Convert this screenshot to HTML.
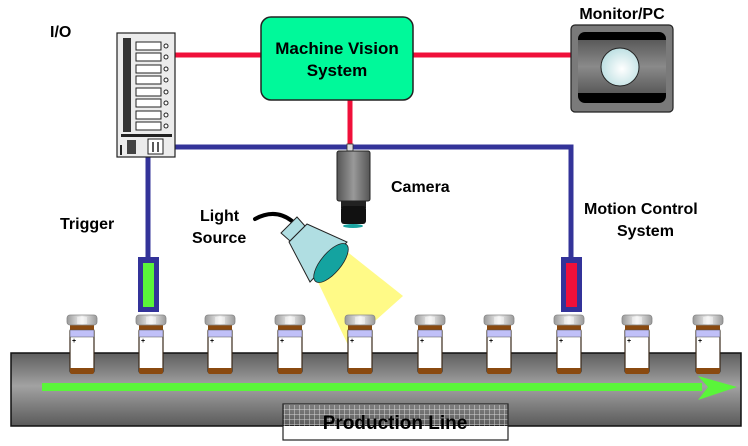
<!DOCTYPE html>
<html><head><meta charset="utf-8"><style>
html,body{margin:0;padding:0;background:#fff}
svg{display:block}
text{font-family:"Liberation Sans",Arial,sans-serif;font-weight:bold;fill:#000}
</style></head><body>
<svg width="748" height="446" viewBox="0 0 748 446" xmlns="http://www.w3.org/2000/svg">
<defs>
<linearGradient id="conv" x1="0" y1="0" x2="0" y2="1">
<stop offset="0" stop-color="#5e5e5e"/><stop offset="0.45" stop-color="#a2a2a2"/><stop offset="1" stop-color="#5a5a5a"/></linearGradient>
<linearGradient id="cap" x1="0" y1="0" x2="1" y2="0">
<stop offset="0" stop-color="#999"/><stop offset="0.5" stop-color="#f2f2f2"/><stop offset="1" stop-color="#999"/></linearGradient>
<linearGradient id="cam" x1="0" y1="0" x2="1" y2="0">
<stop offset="0" stop-color="#555"/><stop offset="0.5" stop-color="#999"/><stop offset="1" stop-color="#555"/></linearGradient>
<linearGradient id="mon" x1="0" y1="0" x2="0" y2="1">
<stop offset="0" stop-color="#5a5a5a"/><stop offset="0.5" stop-color="#8a8a8a"/><stop offset="1" stop-color="#5a5a5a"/></linearGradient>
<radialGradient id="lens" cx="0.55" cy="0.55" r="0.6">
<stop offset="0" stop-color="#fff"/><stop offset="1" stop-color="#b8dde0"/></radialGradient>
<pattern id="grid" width="5" height="5" patternUnits="userSpaceOnUse">
<rect width="5" height="5" fill="none"/><path d="M5 0V5M0 5H5" stroke="#fff" stroke-width="1" opacity="0.7"/></pattern>
<g id="bottle">
<rect x="-12" y="14" width="24" height="44" rx="2" fill="#fff" stroke="#3a2a1a" stroke-width="1.2"/>
<rect x="-12" y="8" width="24" height="8" fill="#8a4a10"/>
<rect x="-12" y="15" width="24" height="7" fill="#c0c0f8" stroke="#555" stroke-width="0.5"/>
<path d="M-12 53h24v4q0 2-2 2h-20q-2 0-2-2z" fill="#8a4a10"/>
<rect x="-15" y="0" width="30" height="10" rx="3" fill="url(#cap)" stroke="#888" stroke-width="0.8"/>
<path d="M-4 2v7M-2 2v7M0 2v7M2 2v7M4 2v7" stroke="#fff" stroke-width="0.8"/>
<text x="-10" y="28" font-size="7">+</text>
</g>
</defs>

<!-- conveyor -->
<rect x="11" y="353" width="730" height="73" fill="url(#conv)" stroke="#111" stroke-width="1.5"/>
<!-- arrow -->
<rect x="42" y="383" width="660" height="8" fill="#5af53a"/>
<path d="M698 376 L737 387 L698 400 L708 387 Z" fill="#5af53a"/>

<!-- light beam -->
<polygon points="316,278 345,250 403,296 348,345" fill="#fffa7a" opacity="0.9"/>

<!-- bottles -->
<use href="#bottle" x="82" y="315"/>
<use href="#bottle" x="151" y="315"/>
<use href="#bottle" x="220" y="315"/>
<use href="#bottle" x="290" y="315"/>
<use href="#bottle" x="360" y="315"/>
<use href="#bottle" x="430" y="315"/>
<use href="#bottle" x="499" y="315"/>
<use href="#bottle" x="569" y="315"/>
<use href="#bottle" x="637" y="315"/>
<use href="#bottle" x="708" y="315"/>

<!-- production line label -->
<rect x="283" y="426" width="225" height="14" fill="#fff"/>
<rect x="283" y="404" width="225" height="36" fill="url(#grid)" stroke="#222" stroke-width="1.2"/>
<text x="395" y="429" font-size="19" text-anchor="middle">Production Line</text>

<!-- wires -->
<line x1="172" y1="55" x2="572" y2="55" stroke="#f0103a" stroke-width="5"/>
<line x1="350" y1="100" x2="350" y2="150" stroke="#f0103a" stroke-width="5"/>
<polyline points="175,147 571,147 571,260" fill="none" stroke="#333399" stroke-width="5"/>
<line x1="148" y1="150" x2="148" y2="258" stroke="#333399" stroke-width="5"/>

<!-- sensors -->
<rect x="138" y="257" width="21" height="55" fill="#333399"/>
<rect x="143" y="263" width="11" height="44" fill="#5af53a"/>
<rect x="561" y="257" width="21" height="55" fill="#333399"/>
<rect x="566" y="263" width="11" height="44" fill="#f0103a"/>

<!-- machine vision -->
<rect x="261" y="17" width="152" height="83" rx="10" fill="#00f99a" stroke="#222" stroke-width="1.5"/>
<text x="337" y="54" font-size="17" text-anchor="middle">Machine Vision</text>
<text x="337" y="76" font-size="17" text-anchor="middle">System</text>

<!-- monitor -->
<text x="622" y="19" font-size="16" text-anchor="middle">Monitor/PC</text>
<rect x="571" y="25" width="102" height="87" rx="4" fill="#7a7a7a" stroke="#222" stroke-width="1.2"/>
<rect x="578" y="32" width="88" height="71" rx="7" fill="#000"/>
<rect x="578" y="40" width="88" height="53" fill="url(#mon)"/>
<circle cx="620" cy="67" r="19" fill="url(#lens)" stroke="#222" stroke-width="1"/>

<!-- I/O -->
<text x="50" y="37" font-size="16">I/O</text>
<rect x="117" y="33" width="58" height="124" fill="#ececec" stroke="#222" stroke-width="1.2"/>
<rect x="123" y="38" width="8" height="94" fill="#333"/>
<g fill="#fff" stroke="#222" stroke-width="1">
<rect x="136" y="42" width="25" height="8"/><rect x="136" y="53" width="25" height="8"/>
<rect x="136" y="65" width="25" height="8"/><rect x="136" y="76" width="25" height="8"/>
<rect x="136" y="88" width="25" height="8"/><rect x="136" y="99" width="25" height="8"/>
<rect x="136" y="111" width="25" height="8"/><rect x="136" y="122" width="25" height="8"/>
<circle cx="166" cy="46" r="2"/><circle cx="166" cy="57" r="2"/><circle cx="166" cy="69" r="2"/>
<circle cx="166" cy="80" r="2"/><circle cx="166" cy="92" r="2"/><circle cx="166" cy="103" r="2"/>
<circle cx="166" cy="115" r="2"/><circle cx="166" cy="126" r="2"/>
</g>
<rect x="121" y="134" width="51" height="3" fill="#222"/>
<rect x="127" y="140" width="9" height="14" fill="#444"/>
<rect x="148" y="139" width="15" height="15" fill="#fff" stroke="#222" stroke-width="1"/>
<path d="M153 142v10M158 142v10" stroke="#222" stroke-width="1.5"/>
<rect x="120" y="145" width="2" height="10" fill="#222"/>

<!-- camera -->
<rect x="347" y="144" width="6" height="7" fill="#ddd" stroke="#333" stroke-width="0.8"/>
<rect x="337" y="151" width="33" height="50" rx="2" fill="url(#cam)" stroke="#222" stroke-width="1"/>
<rect x="341" y="201" width="25" height="7" fill="#222"/>
<rect x="341" y="206" width="25" height="18" rx="3" fill="#111"/>
<ellipse cx="353" cy="226" rx="10" ry="2" fill="#1aa3a0"/>
<text x="391" y="192" font-size="16">Camera</text>

<!-- light source -->
<path d="M255 219 Q275 208 292 221" fill="none" stroke="#000" stroke-width="4" stroke-linecap="round"/>
<polygon points="281,233 297,217 305,226 290,241" fill="#b0dee2" stroke="#222" stroke-width="1"/>
<polygon points="289,242 307,224 347,242 310,282" fill="#b0dee2" stroke="#222" stroke-width="1"/>
<ellipse cx="331" cy="263" rx="24" ry="10" transform="rotate(-50 331 263)" fill="#14a3a0" stroke="#222" stroke-width="0.8"/>
<text x="200" y="221" font-size="16">Light</text>
<text x="192" y="243" font-size="16">Source</text>

<text x="60" y="229" font-size="16">Trigger</text>
<text x="584" y="214" font-size="16">Motion Control</text>
<text x="617" y="236" font-size="16">System</text>
</svg>
</body></html>
